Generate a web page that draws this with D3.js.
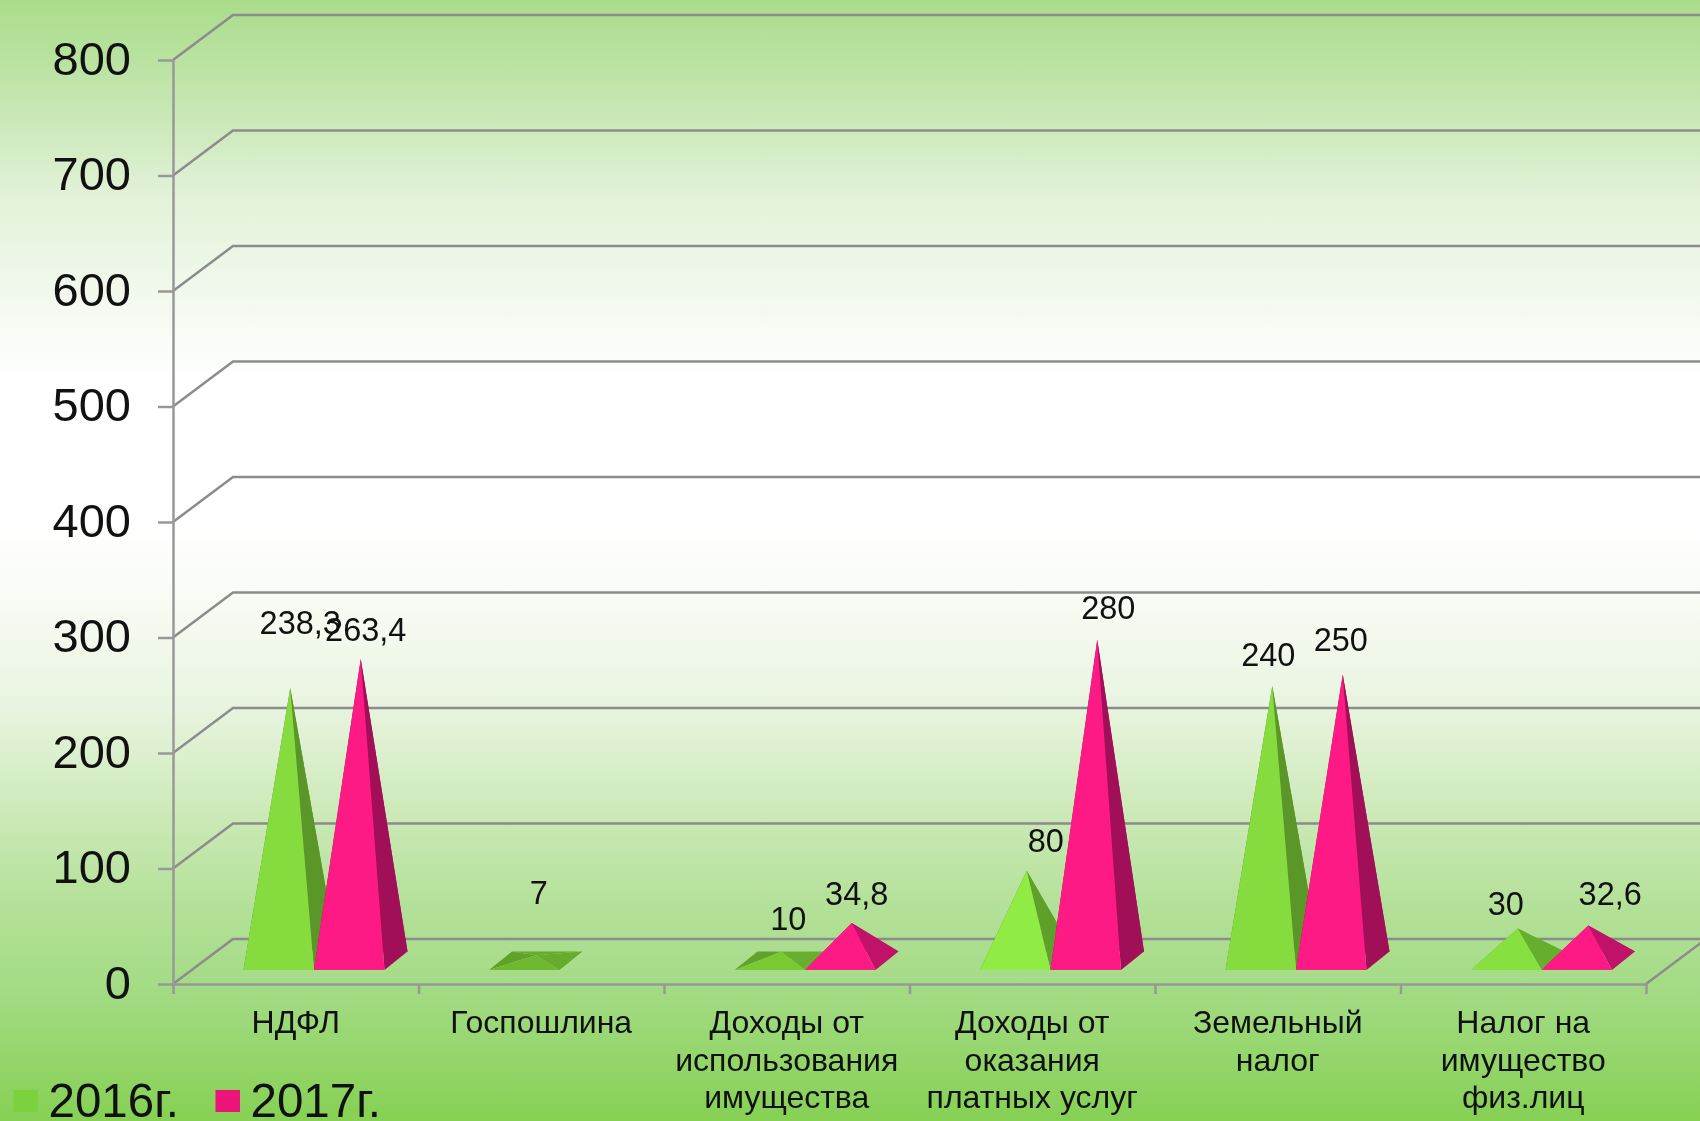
<!DOCTYPE html>
<html>
<head>
<meta charset="utf-8">
<script src="https://cdn.jsdelivr.net/npm/d3@7"></script>
<style>
  html, body { margin: 0; padding: 0; overflow: hidden; }
  svg { display: block; filter: blur(0.6px); }
  text { font-family: "Liberation Sans", Arial, sans-serif; fill: #111; }
</style>
</head>
<body>
<svg id="chart" width="1700" height="1121"></svg>
<script>
const categories = ['НДФЛ', 'Госпошлина', 'Доходы от\nиспользования\nимущества', 'Доходы от\nоказания\nплатных услуг', 'Земельный\nналог', 'Налог на\nимущество\nфиз.лиц']
const seriesNames = ['2016г.', '2017г.']
const values2016 = [238.3, 7, 10, 80, 240, 30]
const values2017 = [263.4, null, 34.8, 280, 250, 32.6]
const labels2016 = ['238,3', '7', '10', '80', '240', '30']
const labels2017 = ['263,4', '', '34,8', '280', '250', '32,6']
const yTicks = [0, 100, 200, 300, 400, 500, 600, 700, 800]

// the data labels were moved by hand in the original, so they are offset from each tip
const labelShift2016 = [[10, -63], [3, -60], [7, -31], [19, -28], [-4, -29], [-12, -22]]
const labelShift2017 = [[5, -27], [0, 0], [5, -27], [11, -30], [-2, -32], [22, -29]]

// face colours change with the slope of each pyramid
const front2016 = ['#86dc3e', '#6fb930', '#78c934', '#90ec44', '#86dc3e', '#88e040']
const side2016 = ['#5a9628', '#67ac2e', '#69ae2f', '#5fa02a', '#5a9628', '#66ae2e']
const front2017 = ['#fe1a84', '#fe1a84', '#fe1a84', '#fe1a84', '#fe1a84', '#fe1a84']
const side2017 = ['#a10f58', '#a10f58', '#c01268', '#a10f58', '#a10f58', '#c01268']

const svg = d3.select('#chart')

// background
const grad = svg.append('defs').append('linearGradient')
  .attr('id', 'bg')
  .attr('x1', 0).attr('y1', 0).attr('x2', 0).attr('y2', 1)
;[[0, '#a8dc88'], [0.09, '#c3e6ae'], [0.18, '#e3f2d9'], [0.27, '#f2f9ee'], [0.34, '#ffffff'], [0.47, '#ffffff'],
  [0.54, '#f7fbf3'], [0.63, '#e8f4df'], [0.71, '#d0ebbd'], [0.8, '#b5e19a'], [0.88, '#a3db84'], [1, '#85d052']]
  .forEach(s => grad.append('stop').attr('offset', s[0]).attr('stop-color', s[1]))
svg.append('rect')
  .attr('x', -5)
  .attr('y', -5)
  .attr('width', 1710)
  .attr('height', 1131)
  .attr('fill', 'url(#bg)')

// geometry
const plotLeft = 173
const plotRight = 1646
const depthX = 60
const depthY = 45
const barWidth = 70.5
const barDepthX = 23
const barDepthY = 18.5
const baseY = 970
const groupInset = 70.5
const apexDrop = 2.5

// scales
const yScale = d3.scaleLinear().domain([0, 800]).range([984, 60])
const xScale = d3.scaleBand().domain(d3.range(categories.length)).range([plotLeft, plotRight])
const seriesScale = d3.scaleBand().domain([0, 1]).range([groupInset, groupInset + 2 * barWidth])
const edgeScale = d3.scaleLinear().domain([0, categories.length]).range([plotLeft, plotRight])

// wall and floor grid
const gridColor = '#8c8c8c'
svg.append('g')
  .selectAll('path')
  .data(yTicks)
  .enter()
  .append('path')
  .attr('d', d => `M${ plotLeft },${ yScale(d) }L${ plotLeft + depthX },${ yScale(d) - depthY }L1710,${ yScale(d) - depthY }`)
  .attr('fill', 'none')
  .attr('stroke', gridColor)
  .attr('stroke-width', 2.5)
svg.append('path')
  .attr('d', `M${ plotRight },${ yScale(0) }L${ plotRight + depthX },${ yScale(0) - depthY }`)
  .attr('fill', 'none')
  .attr('stroke', gridColor)
  .attr('stroke-width', 2.5)

// axes
const yAxis = d3.axisLeft(yScale)
  .tickValues(yTicks)
  .tickSizeInner(15)
  .tickSizeOuter(0)
  .tickPadding(27)
const yAxisG = svg.append('g')
  .attr('transform', `translate(${ plotLeft }, 0)`)
  .call(yAxis)
yAxisG.selectAll('text')
  .style('font-size', '47px')
  .attr('dy', '0.3em')

const xAxis = d3.axisBottom(edgeScale)
  .tickValues(d3.range(categories.length + 1))
  .tickFormat('')
  .tickSizeInner(10)
  .tickSizeOuter(0)
svg.append('g')
  .attr('transform', `translate(0, ${ yScale(0) })`)
  .call(xAxis)
svg.selectAll('.domain, .tick line')
  .attr('stroke', '#989898')
  .attr('stroke-width', 2.5)

// category labels
const catText = svg.append('g')
  .selectAll('text')
  .data(categories)
  .enter()
  .append('text')
  .attr('text-anchor', 'middle')
  .style('font-size', '32px')
catText.selectAll('tspan')
  .data((d, i) => d.split('\n').map(line => ({ line, i })))
  .enter()
  .append('tspan')
  .attr('x', d => xScale(d.i) + xScale.bandwidth() / 2)
  .attr('y', (d, j) => 1033 + j * 37.5)
  .text(d => d.line)

// pyramids, back faces first so tall ones hide them
const drawPyramid = (i, s, value, front, side) => {
  if (value === null) return
  const x0 = xScale(i) + seriesScale(s)
  const x1 = x0 + barWidth
  const A = [x0, baseY]
  const B = [x1, baseY]
  const C = [x1 + barDepthX, baseY - barDepthY]
  const D = [x0 + barDepthX, baseY - barDepthY]
  const P = [(x0 + x1 + barDepthX) / 2, baseY - barDepthY / 2 - (yScale(0) - yScale(value))]
  const apex = [P[0], P[1] + apexDrop]
  const g = svg.append('g').attr('class', 'pyramid')
  const face = (points, fill) => g.append('polygon')
    .attr('points', points.join(' '))
    .attr('fill', fill)
  face([A, D, apex], d3.color(side).darker(0.2))
  face([D, C, apex], side)
  face([B, C, apex], side)
  face([A, B, apex], front)
  return P
}

const tips = [[], []]
categories.forEach((c, i) => {
  tips[0][i] = drawPyramid(i, 0, values2016[i], front2016[i], side2016[i])
  tips[1][i] = drawPyramid(i, 1, values2017[i], front2017[i], side2017[i])
})

// data labels
const drawLabels = (labels, shift, seriesTips) => {
  svg.append('g')
    .selectAll('text')
    .data(labels.filter(d => d !== ''))
    .enter()
    .append('text')
    .attr('text-anchor', 'middle')
    .attr('dy', '0.35em')
    .attr('x', d => seriesTips[labels.indexOf(d)][0] + shift[labels.indexOf(d)][0])
    .attr('y', d => seriesTips[labels.indexOf(d)][1] + shift[labels.indexOf(d)][1])
    .style('font-size', '32.5px')
    .text(d => d)
}
drawLabels(labels2016, labelShift2016, tips[0])
drawLabels(labels2017, labelShift2017, tips[1])

// legend
const legendColors = ['#7cd23c', '#ec1479']
const legendSwatchX = [13.5, 215.5]
const legendTextX = [48.5, 250.5]
const legend = svg.append('g').attr('class', 'legend')
seriesNames.forEach((name, i) => {
  legend.append('rect')
    .attr('x', legendSwatchX[i])
    .attr('y', 1090)
    .attr('width', 24.5)
    .attr('height', 22)
    .attr('fill', legendColors[i])
  legend.append('text')
    .attr('x', legendTextX[i])
    .attr('y', 1117)
    .style('font-size', '47.5px')
    .text(name)
})
</script>
</body>
</html>
